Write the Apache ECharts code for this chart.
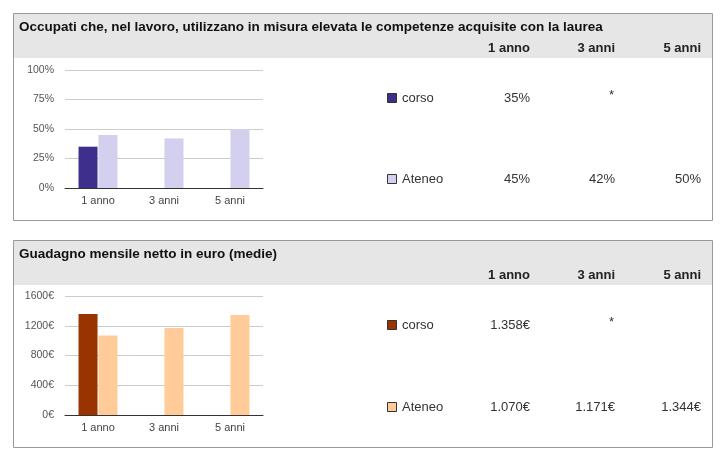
<!DOCTYPE html>
<html><head><meta charset="utf-8">
<script src="https://cdn.jsdelivr.net/npm/echarts@6/dist/echarts.min.js"></script>
<style>html,body{margin:0;padding:0;background:#fff}#c{width:726px;height:461px}</style>
</head><body><div id="c"></div>
<script>
// ---- data ----
const categories = ['1 anno', '3 anni', '5 anni'];
const seriesNames = ['corso', 'Ateneo'];
const compCorso = [35, null, null];
const compAteneo = [45, 42, 50];
const wageCorso = [1358, null, null];
const wageAteneo = [1070, 1171, 1344];
const corsoMissingMark = ['', '*', ''];   // table marker shown where corso has no value
const compTitle = 'Occupati che, nel lavoro, utilizzano in misura elevata le competenze acquisite con la laurea';
const wageTitle = 'Guadagno mensile netto in euro (medie)';
const compAxis = { min: 0, max: 100, interval: 25, unit: '%' };
const wageAxis = { min: 0, max: 1600, interval: 400, unit: '€' };
const compColors = ['#3e2f8c', '#d3cfee'];
const wageColors = ['#993300', '#ffcc99'];

// ---- helpers ----
const FONT = '"Liberation Sans", Arial, Helvetica, sans-serif';
function itNum(v) { return String(Math.round(v)).replace(/\B(?=(\d{3})+(?!\d))/g, '.'); }
function fmtPct(v) { return v + '%'; }
function fmtEur(v) { return itNum(v) + '€'; }

const colRight = [530, 615, 701];

function panel(top, title, rows, colors, fmt, rowYs) {
  const els = [];
  els.push({ type: 'rect', shape: { x: 13.5, y: top + 0.5, width: 699, height: 207 },
    style: { fill: '#fff', stroke: '#999', lineWidth: 1 }, z: 0 });
  els.push({ type: 'rect', shape: { x: 14, y: top + 1, width: 698, height: 44 },
    style: { fill: '#e6e6e6' }, z: 1 });
  els.push({ type: 'text', x: 19, y: top + 14, z: 2,
    style: { text: title, font: 'bold 13.5px ' + FONT, fill: '#111', textVerticalAlign: 'middle' } });
  categories.forEach((c, i) => {
    els.push({ type: 'text', x: colRight[i], y: top + 35, z: 2,
      style: { text: c, font: 'bold 13px ' + FONT, fill: '#222', textAlign: 'right', textVerticalAlign: 'middle' } });
  });
  rows.forEach((vals, r) => {
    const y = rowYs[r];
    els.push({ type: 'rect', shape: { x: 387.5, y: y - 4.5, width: 9, height: 9 },
      style: { fill: colors[r], stroke: '#333', lineWidth: 1 }, z: 2 });
    els.push({ type: 'text', x: 402, y: y, z: 2,
      style: { text: seriesNames[r], font: '13px ' + FONT, fill: '#333', textVerticalAlign: 'middle' } });
    vals.forEach((v, i) => {
      let t = v == null ? (r === 0 ? corsoMissingMark[i] : '') : fmt(v);
      const isStar = t === '*';
      els.push({ type: 'text', x: colRight[i] - (isStar ? 1 : 0), y: isStar ? y - 3 : y, z: 2,
        style: { text: t, font: '13px ' + FONT, fill: '#333', textAlign: 'right', textVerticalAlign: 'middle' } });
    });
  });
  return els;
}

const graphics = [].concat(
  panel(13, compTitle, [compCorso, compAteneo], compColors, fmtPct, [98, 179]),
  panel(240, wageTitle, [wageCorso, wageAteneo], wageColors, fmtEur, [325, 407])
);

function yAxis(idx, ax) {
  return { type: 'value', gridIndex: idx, min: ax.min, max: ax.max, interval: ax.interval,
    axisLine: { show: false }, axisTick: { show: false },
    splitLine: { lineStyle: { color: '#cccccc', width: 1 } },
    axisLabel: { formatter: v => v + ax.unit, color: '#555', fontSize: 10.5, fontFamily: FONT, margin: 11 } };
}
function xAxis(idx) {
  return { type: 'category', gridIndex: idx, data: categories,
    axisLine: { lineStyle: { color: '#333', width: 1 } }, axisTick: { show: false },
    axisLabel: { color: '#444', fontSize: 11, fontFamily: FONT, margin: 7 } };
}
function bar(name, data, color, idx) {
  return { type: 'bar', name, data, xAxisIndex: idx, yAxisIndex: idx, barWidth: 19, barGap: '5%',
    itemStyle: { color }, silent: true, animation: false };
}

const chart = echarts.init(document.getElementById('c'), null, { renderer: 'canvas' });
chart.setOption({
  animation: false,
  backgroundColor: '#fff',
  grid: [
    { left: 65, top: 70, width: 198, height: 118 },
    { left: 65, top: 296, width: 198, height: 119 }
  ],
  xAxis: [xAxis(0), xAxis(1)],
  yAxis: [yAxis(0, compAxis), yAxis(1, wageAxis)],
  series: [
    bar(seriesNames[0], compCorso, compColors[0], 0),
    bar(seriesNames[1], compAteneo, compColors[1], 0),
    bar(seriesNames[0], wageCorso, wageColors[0], 1),
    bar(seriesNames[1], wageAteneo, wageColors[1], 1)
  ],
  graphic: { elements: graphics.map(g => Object.assign({ silent: true }, g)) }
});
</script></body></html>
